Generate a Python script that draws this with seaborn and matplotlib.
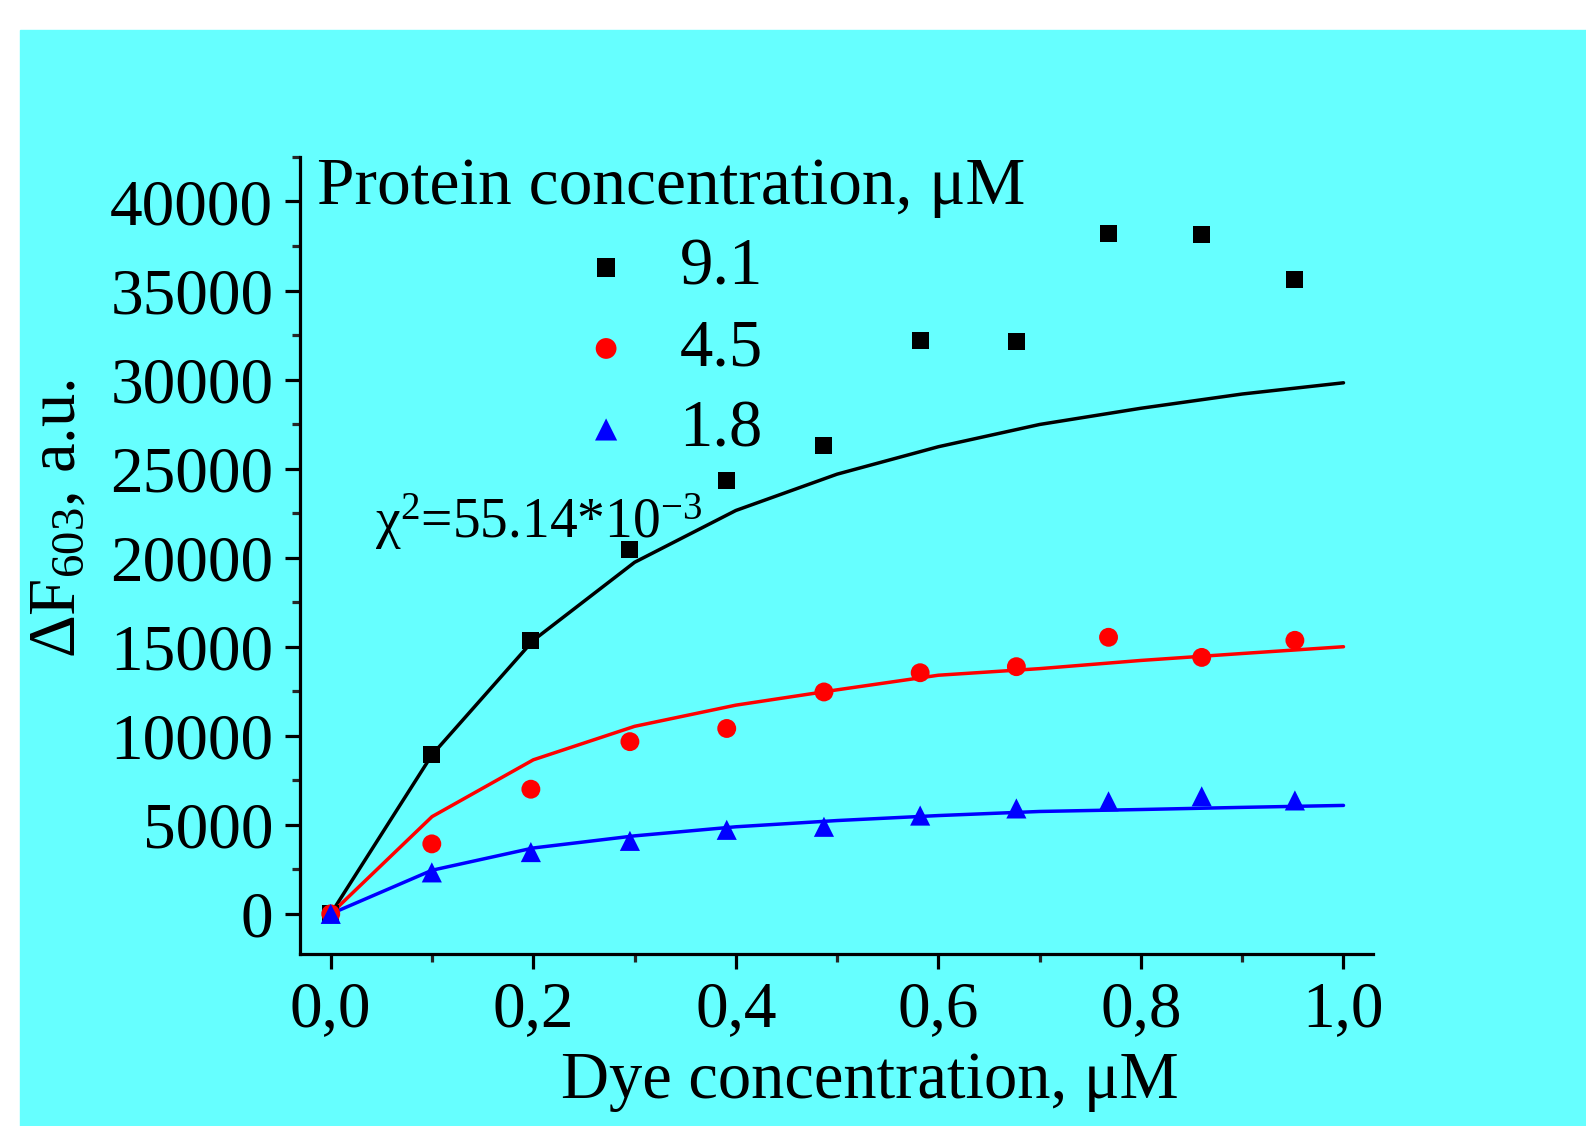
import matplotlib
matplotlib.use('Agg')
import matplotlib.pyplot as plt
from matplotlib.patches import Rectangle
from matplotlib.ticker import MultipleLocator, FuncFormatter
import seaborn as sns
import pandas as pd

# Dados
corante = [0.0, 0.0998, 0.1976, 0.2954, 0.391, 0.487, 0.582, 0.677, 0.768, 0.860, 0.952]
proteina_91 = [0, 8930, 15360, 20480, 24350, 26290, 32200, 32150, 38180, 38120, 35620]
proteina_45 = [0, 3930, 7000, 9670, 10410, 12460, 13540, 13880, 15530, 14400, 15360]
proteina_18 = [0, 2330, 3470, 4100, 4720, 4890, 5520, 5920, 6320, 6600, 6370]

# Curvas de ajuste
x_ajuste = [0.0, 0.1, 0.2, 0.3, 0.4, 0.5, 0.6, 0.7, 0.8, 0.9, 1.0]
ajuste_91 = [0, 8930, 15360, 19740, 22650, 24690, 26230, 27480, 28390, 29190, 29820]
ajuste_45 = [0, 5460, 8650, 10530, 11720, 12580, 13400, 13770, 14230, 14620, 15000]
ajuste_18 = [0, 2450, 3700, 4380, 4890, 5240, 5520, 5750, 5860, 5980, 6090]

rotulos = ['9.1', '4.5', '1.8']
cores = ['black', 'red', 'blue']
marcadores = ['s', 'o', '^']
tamanhos = [150, 185, 210]

CIANO = '#66FFFF'

sns.set_style('ticks')
plt.rcParams['font.family'] = ['Liberation Serif', 'DejaVu Serif']
plt.rcParams['mathtext.fontset'] = 'custom'
plt.rcParams['mathtext.rm'] = 'Liberation Serif'
plt.rcParams['mathtext.it'] = 'Liberation Serif:italic'
plt.rcParams['text.color'] = 'black'
plt.rcParams['axes.labelcolor'] = 'black'

fig = plt.figure(figsize=(15.86, 11.26), dpi=100)
fig.patches.append(Rectangle((20 / 1586, 0), 1 - 20 / 1586, 1096 / 1126,
                             transform=fig.transFigure, color=CIANO, zorder=-1))
ax = fig.add_axes([0.189, 0.1528, 0.677, 0.7078])
ax.set_facecolor(CIANO)

series = [proteina_91, proteina_45, proteina_18]
ajustes = [ajuste_91, ajuste_45, ajuste_18]
for rot, cor, mk, tam, ys, yf in zip(rotulos, cores, marcadores, tamanhos, series, ajustes):
    df_fit = pd.DataFrame({'x': x_ajuste, 'y': yf})
    sns.lineplot(data=df_fit, x='x', y='y', color=cor, linewidth=2.5, ax=ax, zorder=2)
    df_pts = pd.DataFrame({'x': corante, 'y': ys})
    sns.scatterplot(data=df_pts, x='x', y='y', color=cor, marker=mk, s=tam,
                    edgecolor='none', linewidth=0, ax=ax, label=rot, zorder=3)

ax.set_xlim(-0.0306, 1.0296)
ax.set_ylim(-2250, 42500)
ax.xaxis.set_major_locator(MultipleLocator(0.2))
ax.xaxis.set_minor_locator(MultipleLocator(0.1))
ax.yaxis.set_major_locator(MultipleLocator(5000))
ax.yaxis.set_minor_locator(MultipleLocator(2500))
ax.xaxis.set_major_formatter(FuncFormatter(lambda v, p: f'{v:.1f}'.replace('.', ',')))

for s in ['top', 'right']:
    ax.spines[s].set_visible(False)
for s in ['left', 'bottom']:
    ax.spines[s].set_linewidth(2.3)
    ax.spines[s].set_color('black')

ax.tick_params(axis='both', which='major', direction='out', length=11, width=2.3,
               labelsize=47, pad=8, colors='black')
ax.tick_params(axis='both', which='minor', direction='out', length=6, width=2.3)
ax.tick_params(axis='x', which='both', bottom=True)
ax.tick_params(axis='y', which='both', left=True)

ax.set_xlabel('Dye concentration, μM', fontsize=48)
ax.set_ylabel('ΔF$_{603}$, a.u.', fontsize=48)
ax.xaxis.set_label_coords(0.531, -0.122)
ax.yaxis.set_label_coords(-0.197, 0.546)

ax.text(0.07, 0.522, 'χ$^{2}$=55.14*10$^{-3}$', transform=ax.transAxes,
        fontsize=40, ha='left', va='baseline', color='black')

leg = ax.legend(title='Protein concentration, μM', loc='upper left',
                bbox_to_anchor=(0.016, 1.0), frameon=False, fontsize=48,
                title_fontsize=48.5, borderaxespad=0, borderpad=0,
                handlelength=0.8, handletextpad=0.7, labelspacing=0.3,
                markerscale=1.1)
for t in leg.get_texts():
    t.set_color('black')
leg.get_title().set_color('black')

fig.savefig('out.png', dpi=100)
